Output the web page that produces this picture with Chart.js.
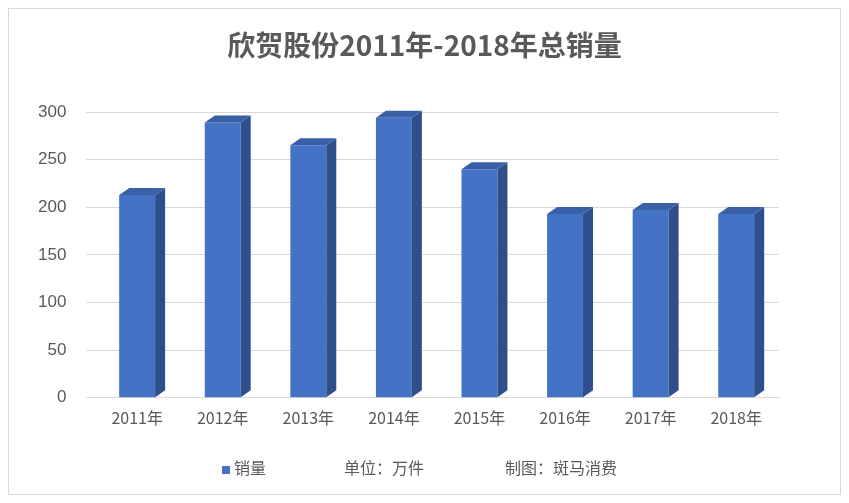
<!DOCTYPE html>
<html><head><meta charset="utf-8">
<script src="https://cdn.jsdelivr.net/npm/chart.js"></script>
<style>
body{margin:0;background:#fff;font-family:"Noto Sans CJK SC","Liberation Sans",sans-serif}
#box{position:absolute;left:8px;top:8px;width:831px;height:485px;border:1px solid #d9d9d9}
#title{position:absolute;left:0;width:849px;top:24px;text-align:center;font-size:28px;font-weight:bold;color:#595959}
#legend{position:absolute;left:222px;top:455px;font-size:16px;color:#595959;white-space:pre}
#legend span{display:inline-block;width:8px;height:8px;background:#4472c4;margin-right:4px;vertical-align:middle}
#legend b{font-weight:normal;position:absolute;top:0}
</style></head><body>
<div id="box"></div>
<canvas id="c" width="849" height="503" style="position:absolute;left:0;top:0"></canvas>
<div id="title">欣贺股份2011年-2018年总销量</div>
<div id="legend"><span></span>销量<b style="left:122px">单位：万件</b><b style="left:283px">制图：斑马消费</b></div>
<script>
const years = ["2011年","2012年","2013年","2014年","2015年","2016年","2017年","2018年"];
const sales = [213,289,265,294,240,193,197,193];

// fake 3D: side + top faces for each bar
const depth = {dx:10, dy:7};
const bar3d = {
  id:'bar3d',
  afterDatasetsDraw(chart){
    const ctx = chart.ctx;
    chart.getDatasetMeta(0).data.forEach(b=>{
      const l=b.x-b.width/2, r=b.x+b.width/2, t=b.y, bt=b.base;
      ctx.fillStyle='#2f4f8c';
      ctx.beginPath();
      ctx.moveTo(r,t);ctx.lineTo(r+depth.dx,t-depth.dy);ctx.lineTo(r+depth.dx,bt-depth.dy);ctx.lineTo(r,bt);
      ctx.closePath();ctx.fill();
      ctx.fillStyle='#3a60a8';
      ctx.beginPath();
      ctx.moveTo(l,t);ctx.lineTo(l+depth.dx,t-depth.dy);ctx.lineTo(r+depth.dx,t-depth.dy);ctx.lineTo(r,t);
      ctx.closePath();ctx.fill();
    });
  }
};

new Chart(document.getElementById('c'), {
  type:'bar',
  data:{labels:years, datasets:[{label:'销量', data:sales, backgroundColor:'#4472c4',
    barPercentage:0.42, categoryPercentage:1}]},
  options:{
    responsive:false, animation:false,
    layout:{padding:{left:18,right:70,top:112,bottom:72}},
    plugins:{legend:{display:false}, title:{display:false}},
    scales:{
      x:{grid:{display:false}, border:{color:'#d9d9d9'},
        ticks:{color:'#595959',font:{size:16,family:'"Noto Sans CJK SC"'}}},
      y:{min:0,max:300, ticks:{stepSize:50,color:'#595959',font:{size:17},padding:20},
        grid:{color:'#d9d9d9'}, border:{display:false}}
    }
  },
  plugins:[bar3d]
});
</script></body></html>
